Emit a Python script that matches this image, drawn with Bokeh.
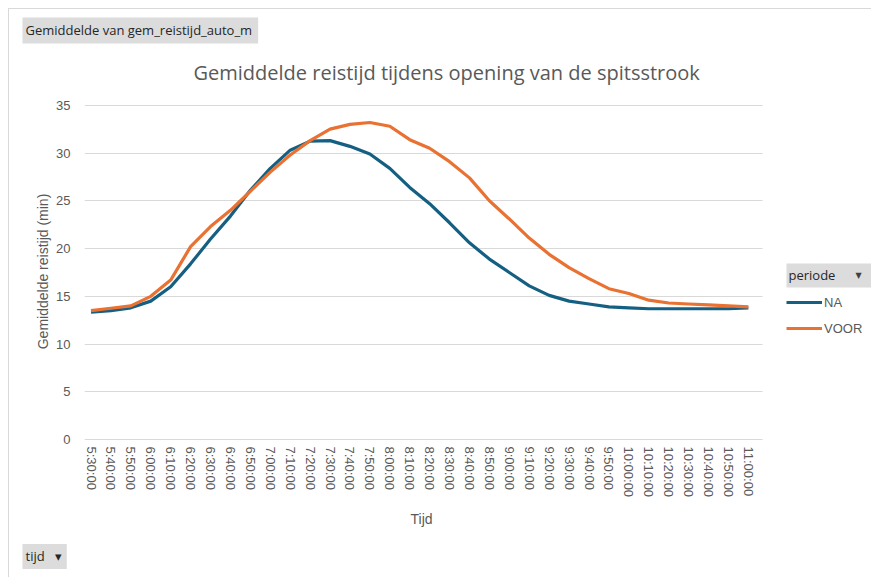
from bokeh.plotting import figure
from bokeh.models import (Range1d, FixedTicker, Legend, LegendItem, Title, Label,
                          InlineStyleSheet)
from bokeh.embed import file_html
from bokeh.resources import INLINE

# Average car travel time (minutes) per 10-minute slot, before/after opening of the peak-hour lane
times = ["5:30:00", "5:40:00", "5:50:00", "6:00:00", "6:10:00", "6:20:00",
         "6:30:00", "6:40:00", "6:50:00", "7:00:00", "7:10:00", "7:20:00",
         "7:30:00", "7:40:00", "7:50:00", "8:00:00", "8:10:00", "8:20:00",
         "8:30:00", "8:40:00", "8:50:00", "9:00:00", "9:10:00", "9:20:00",
         "9:30:00", "9:40:00", "9:50:00", "10:00:00", "10:10:00", "10:20:00",
         "10:30:00", "10:40:00", "10:50:00", "11:00:00"]

na = [13.35, 13.5, 13.8, 14.5, 16.0, 18.4, 21.0, 23.4, 26.1, 28.4,
      30.3, 31.25, 31.3, 30.7, 29.9, 28.4, 26.4, 24.7, 22.7, 20.6,
      18.9, 17.5, 16.1, 15.1, 14.5, 14.2, 13.9, 13.8, 13.7, 13.7,
      13.7, 13.7, 13.7, 13.8]

voor = [13.5, 13.75, 14.0, 15.0, 16.7, 20.2, 22.3, 24.0, 26.0, 28.0,
        29.8, 31.3, 32.5, 33.0, 33.2, 32.8, 31.4, 30.5, 29.1, 27.4,
        25.0, 23.1, 21.1, 19.4, 18.0, 16.85, 15.8, 15.3, 14.6, 14.3,
        14.2, 14.1, 14.0, 13.9]

y_ticks = [0, 5, 10, 15, 20, 25, 30, 35]

W, H = 871, 577
FL, FT, FB = 84, 100, 442     # frame edges (the frame runs to the right edge)
PLOT_R = 762                  # right end of the plotting area / gridlines
K = 19.92                     # pixels per category slot
X0 = -(90.5 - FL) / K
X1 = X0 + (W - FL) / K
XG = X0 + (PLOT_R - FL) / K

TXT = "#595959"
GRID = "#d9d9d9"
BTN = "#dcdcdc"
FONT = "Liberation Sans"
UIFONT = "Open Sans"
NB = "\u00a0"

# thin chart-area border along the top and left edge
border_css = InlineStyleSheet(css="""
:host { position: relative; }
:host::before {
  content: ""; position: absolute; left: 8px; top: 8px; right: -2px; bottom: -2px;
  border-left: 1px solid #d9d9d9; border-top: 1px solid #d9d9d9;
  pointer-events: none; z-index: 5;
}
""")

# pivot value field button, placed outermost above the chart
value_btn = Title(text="Gemiddelde van gem_reistijd_auto_m", align="left",
                  offset=22 - FL, text_font=UIFONT, text_font_size="13px",
                  text_font_style="normal", text_color="#262626",
                  background_fill_color=BTN, padding=(3, 6, 3, 5), standoff=2)

p = figure(width=W, height=H, output_backend="svg", toolbar_location=None,
           x_range=Range1d(X0, X1), y_range=Range1d(-0.3, 35.5),
           min_border_left=FL, min_border_right=0,
           min_border_top=FT, min_border_bottom=H - FB,
           title=value_btn, stylesheets=[border_css])
p.outline_line_color = None
p.background_fill_color = "white"
p.border_fill_color = "white"

xs = list(range(len(times)))

# axes
p.xaxis.ticker = FixedTicker(ticks=xs)
p.xaxis.major_label_overrides = {i: t for i, t in enumerate(times)}
p.xaxis.major_label_orientation = "vertical"
p.yaxis.ticker = FixedTicker(ticks=y_ticks)
p.yaxis.axis_label = "Gemiddelde reistijd (min)"
for ax in (p.xaxis, p.yaxis):
    ax.axis_line_color = None
    ax.major_tick_line_color = None
    ax.minor_tick_line_color = None
    ax.major_tick_out = 0
    ax.major_label_text_font = FONT
    ax.major_label_text_font_size = "13px"
    ax.major_label_text_color = TXT
    ax.axis_label_text_font = FONT
    ax.axis_label_text_font_size = "14px"
    ax.axis_label_text_font_style = "normal"
    ax.axis_label_text_color = TXT
p.xaxis.major_label_standoff = 4
p.yaxis.major_label_standoff = 14
p.yaxis.axis_label_standoff = 2

p.xgrid.visible = False
p.ygrid.ticker = FixedTicker(ticks=y_ticks)
p.ygrid.grid_line_color = GRID
p.ygrid.grid_line_width = 1
p.ygrid.cross_bounds = (X0, XG)

# series
r_na = p.line(xs, na, line_color="#156082", line_width=3.2, line_join="round")
r_voor = p.line(xs, voor, line_color="#E97132", line_width=3.2, line_join="round")

# chart title (centred over the chart area, which is narrower than the frame)
main_title = Title(text="Gemiddelde reistijd tijdens opening van de spitsstrook",
                   align="left", vertical_align="middle",
                   offset=445 - 252 - FL, text_font=UIFONT,
                   text_font_size="20px", text_font_style="normal",
                   text_color=TXT, standoff=27)
p.add_layout(main_title, "above")

# x axis title, centred under the plotting area
x_title = Title(text="Tijd", align="left", offset=423 - 13 - FL,
                text_font=FONT, text_font_size="14px", text_font_style="normal",
                text_color=TXT, standoff=16)
p.add_layout(x_title, "below")

# pivot axis field button
axis_btn = Title(text="tijd" + NB * 3 + "▾", align="left",
                 offset=22 - FL, text_font=UIFONT, text_font_size="13px",
                 text_font_style="normal", text_color="#262626",
                 background_fill_color=BTN, padding=(3, 5, 3, 4), standoff=15)
p.add_layout(axis_btn, "below")


def sx(px):
    return px - FL


def sy(py):
    return FB - py


# "periode" legend field button
p.add_layout(Label(x=sx(786), y=sy(275), x_units="screen", y_units="screen",
                   text="periode", text_align="left", text_baseline="middle",
                   text_font=UIFONT, text_font_size="13px", text_color="#262626",
                   background_fill_color=BTN, padding=(2, 36, 2, 4)))
p.add_layout(Label(x=sx(858), y=sy(275), x_units="screen", y_units="screen",
                   text="▼", text_align="center", text_baseline="middle",
                   text_font="DejaVu Sans", text_font_size="8px",
                   text_color="#404040"))

# series legend
legend = Legend(items=[LegendItem(label="NA", renderers=[r_na]),
                       LegendItem(label="VOOR", renderers=[r_voor])],
                location=(sx(786), sy(338)),
                glyph_width=36, glyph_height=20, spacing=6,
                label_standoff=2, padding=0, margin=0,
                label_text_font=FONT, label_text_font_size="13px",
                label_text_color=TXT,
                border_line_color=None, background_fill_alpha=0)
p.add_layout(legend, "center")

open("out.html", "w").write(file_html(p, INLINE))
